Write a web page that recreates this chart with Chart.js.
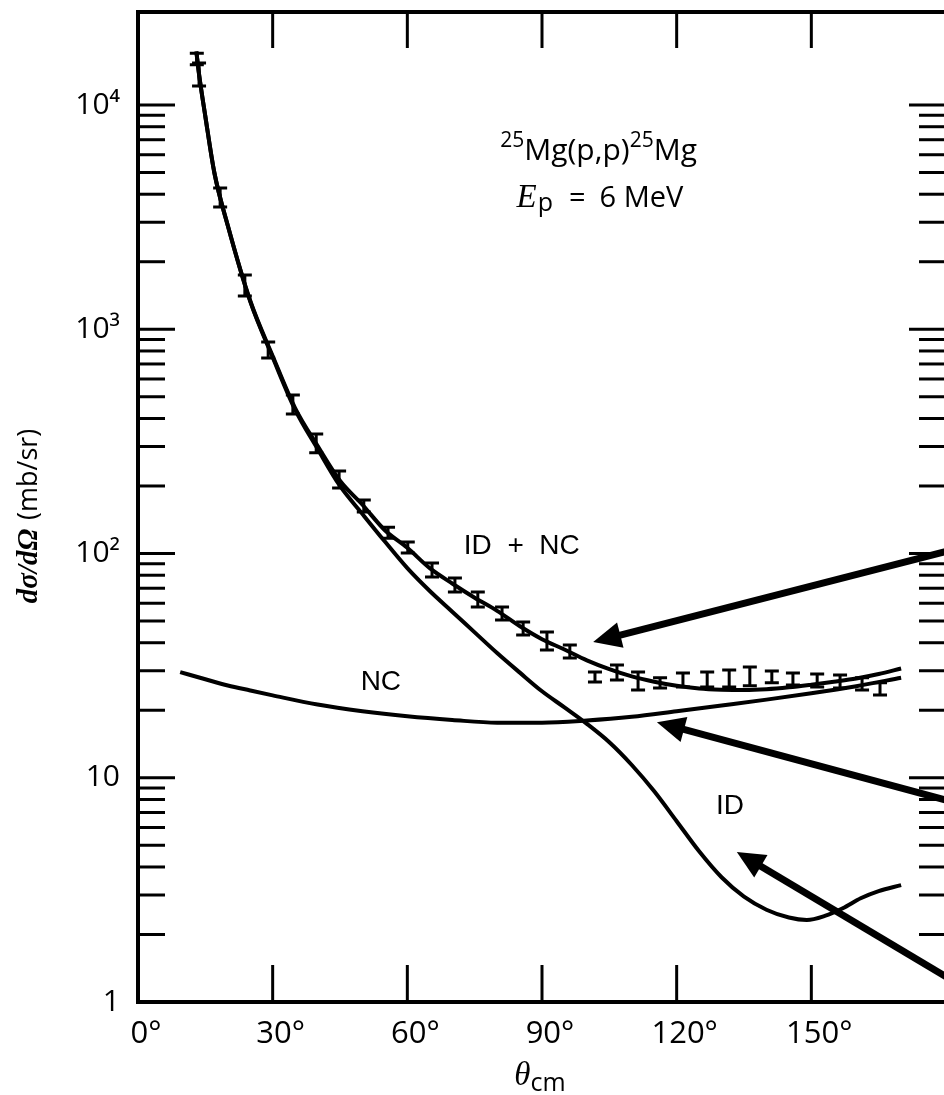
<!DOCTYPE html>
<html>
<head>
<meta charset="utf-8">
<script src="https://cdn.jsdelivr.net/npm/chart.js@4.4.0/dist/chart.umd.min.js"></script>
<style>
html,body{margin:0;padding:0;background:#fff;overflow:hidden;width:944px;height:1095px}
#wrap{position:relative;width:960px;height:1095px}
canvas{display:block}
</style>
</head>
<body>
<div id="wrap"><canvas id="c" width="960" height="1095"></canvas></div>
<script>
// ---------- data ----------
const angleTicks = [0, 30, 60, 90, 120, 150];
const angleTickLabels = ['0°', '30°', '60°', '90°', '120°', '150°'];
const yTickValues = [1, 10, 100, 1000, 10000];
const yTickLabels = ['1', '10', '10²', '10³', '10⁴'];

// ID + NC curve
const idncAngles = [13, 13.6, 15, 17, 20, 25, 30, 35, 40, 45, 50, 55, 60, 65, 70, 75, 80, 85, 90, 95, 100, 105, 110, 115, 120, 125, 130, 135, 140, 145, 150, 155, 160, 165, 170];
const idncValues = [17300, 13700, 8900, 5000, 2900, 1340, 760, 445, 302, 211, 165, 127, 106, 86, 73.5, 63.5, 55.5, 47.5, 41.5, 37.3, 33.4, 30.5, 28.3, 26.8, 25.7, 25.0, 24.7, 24.6, 24.8, 25.3, 26.0, 26.8, 27.7, 29.0, 30.7];

// ID curve
const idAngles = [13, 13.6, 15, 17, 20, 25, 30, 35, 40, 45, 50, 55, 60, 65, 70, 75, 80, 85, 90, 95, 100, 105, 110, 115, 120, 125, 130, 135, 140, 145, 149, 153, 157, 161, 165, 170];
const idValues = [17300, 13700, 8900, 5000, 2900, 1330, 750, 438, 293, 200, 150, 113, 86, 68, 55, 44.5, 36, 29.5, 24.3, 20.6, 17.4, 14.4, 11.4, 8.7, 6.4, 4.7, 3.6, 2.95, 2.58, 2.38, 2.32, 2.42, 2.62, 2.9, 3.12, 3.32];

// NC curve
const ncAngles = [9.4, 15, 20, 25, 30, 40, 50, 60, 70, 80, 90, 100, 110, 120, 130, 140, 150, 160, 170];
const ncValues = [29.6, 27.5, 25.8, 24.5, 23.3, 21.2, 19.8, 18.8, 18.1, 17.6, 17.6, 18.0, 18.7, 19.8, 21.0, 22.3, 23.8, 25.6, 27.9];

// measured points (error bars)
const pointAngles = [13.1, 13.6, 18.3, 23.8, 29.0, 34.5, 39.7, 44.8, 50.3, 55.7, 60.1, 65.5, 70.6, 75.7, 81.1, 85.8, 91.1, 96.2, 101.8, 106.7, 111.4, 116.3, 121.4, 126.8, 131.7, 136.3, 141.2, 145.9, 151.3, 156.4, 161.3, 165.3];
const pointLow  = [15100, 12150, 3510, 1407, 744, 419, 281, 196, 153, 117, 100.5, 78.6, 67.3, 57.7, 50.5, 43.3, 37.1, 34.2, 26.7, 27.3, 24.6, 25.1, 25.4, 25.4, 25.4, 25.7, 26.5, 25.9, 25.4, 25.1, 24.6, 23.4];
const pointHigh = [17000, 15400, 4265, 1745, 877, 509, 341, 233, 173, 131, 112.5, 90.7, 77.8, 67.3, 57.7, 49.5, 44.7, 39.1, 29.6, 31.8, 29.6, 27.9, 29.3, 29.6, 30.2, 31.2, 29.9, 29.3, 29.0, 28.7, 27.9, 26.5];

// ---------- helpers ----------
const toXY = (xs, ys) => xs.map((x, i) => ({ x: x, y: ys[i] }));
const SANS = '"Open Sans", "DejaVu Sans", sans-serif';
const SERIF = '"Liberation Serif", "DejaVu Serif", serif';
const HELV = '"Liberation Sans", Arial, sans-serif';

function richText(ctx, segs, cx, baseY) {
  let total = 0;
  segs.forEach(s => { ctx.font = s.f; s.w = ctx.measureText(s.t).width; total += s.w + (s.gap || 0); });
  let x = cx - total / 2;
  segs.forEach(s => {
    ctx.font = s.f;
    ctx.fillText(s.t, x, baseY + (s.dy || 0));
    x += s.w + (s.gap || 0);
  });
}

const framePlugin = {
  id: 'frameTicks',
  afterDraw(chart) {
    const { ctx, chartArea: a, scales: { x, y } } = chart;
    ctx.save();
    ctx.strokeStyle = '#000';
    ctx.lineWidth = 3;
    const seg = (x1, y1, x2, y2) => { ctx.beginPath(); ctx.moveTo(x1, y1); ctx.lineTo(x2, y2); ctx.stroke(); };
    angleTicks.forEach(v => {
      if (v <= 0) return;
      const px = x.getPixelForValue(v);
      seg(px, a.bottom, px, a.bottom - 37);
      seg(px, a.top, px, a.top + 36);
    });
    for (let d = 0; d <= 4; d++) {
      for (let m = 1; m <= 9; m++) {
        const v = m * Math.pow(10, d);
        if (v > 10000) break;
        const py = y.getPixelForValue(v);
        const len = m === 1 ? 37 : 27;
        seg(a.left, py, a.left + len, py);
        seg(a.right, py, a.right - len, py);
      }
    }
    ctx.lineWidth = 4;
    ctx.strokeRect(a.left, a.top, a.width, a.height);

    // arrows (anchored in data coordinates)
    const arrows = [
      { from: [183.1, 105.8], to: [101.4, 40.3] },
      { from: [183.1, 7.64], to: [115.6, 17.7] },
      { from: [183.1, 1.19], to: [133.4, 4.67] }
    ];
    ctx.fillStyle = '#000';
    arrows.forEach(ar => {
      const x1 = x.getPixelForValue(ar.from[0]), y1 = y.getPixelForValue(ar.from[1]);
      const x2 = x.getPixelForValue(ar.to[0]), y2 = y.getPixelForValue(ar.to[1]);
      const ang = Math.atan2(y2 - y1, x2 - x1);
      const hl = 28, hw = 13;
      const bx = x2 - hl * Math.cos(ang), by = y2 - hl * Math.sin(ang);
      ctx.lineWidth = 7;
      seg(x1, y1, bx + 4 * Math.cos(ang), by + 4 * Math.sin(ang));
      ctx.beginPath();
      ctx.moveTo(x2, y2);
      ctx.lineTo(bx + hw * Math.sin(ang), by - hw * Math.cos(ang));
      ctx.lineTo(bx - hw * Math.sin(ang), by + hw * Math.cos(ang));
      ctx.closePath();
      ctx.fill();
    });

    // texts
    ctx.fillStyle = '#000';
    ctx.textBaseline = 'alphabetic';
    ctx.textAlign = 'left';
    const P = (t, v) => [x.getPixelForValue(t), y.getPixelForValue(v)];
    let p = P(102.6, 5685);
    richText(ctx, [
      { t: '25', f: '21px ' + SANS, dy: -13 },
      { t: 'Mg(p,p)', f: '30px ' + SANS },
      { t: '25', f: '21px ' + SANS, dy: -13 },
      { t: 'Mg', f: '30px ' + SANS }
    ], p[0], p[1]);
    p = P(102.9, 3510);
    richText(ctx, [
      { t: 'E', f: 'italic 33px ' + SERIF, gap: 1 },
      { t: 'p', f: '25px ' + SANS, dy: 4, gap: 16 },
      { t: '=', f: '29px ' + SANS, gap: 14 },
      { t: '6 MeV', f: '29px ' + SANS }
    ], p[0], p[1]);
    ctx.textAlign = 'center';
    ctx.textBaseline = 'middle';
    ctx.font = '28px ' + HELV;
    p = P(85.5, 108); ctx.fillText('ID  +  NC', p[0], p[1]);
    p = P(54.1, 26.7); ctx.fillText('NC', p[0], p[1]);
    p = P(131.9, 7.48); ctx.fillText('ID', p[0], p[1]);

    // axis titles
    ctx.textAlign = 'left';
    ctx.textBaseline = 'alphabetic';
    richText(ctx, [
      { t: 'θ', f: 'italic 33px ' + SERIF },
      { t: 'cm', f: '25px ' + SANS, dy: 6 }
    ], (a.left + a.right) / 2 - 2, 1085);
    ctx.save();
    ctx.translate(37, 516);
    ctx.rotate(-Math.PI / 2);
    richText(ctx, [
      { t: 'dσ/dΩ', f: 'italic bold 29px ' + SERIF, gap: 9 },
      { t: '(mb/sr)', f: '27px ' + SANS }
    ], 0, 0);
    ctx.restore();
    ctx.restore();
  }
};

const errorBarPlugin = {
  id: 'errorBars',
  afterDatasetsDraw(chart) {
    const { ctx, chartArea: a, scales: { x, y } } = chart;
    ctx.save();
    ctx.beginPath(); ctx.rect(a.left, a.top, a.width, a.height); ctx.clip();
    ctx.strokeStyle = '#000';
    ctx.lineWidth = 3;
    pointAngles.forEach((t, i) => {
      const px = x.getPixelForValue(t);
      const lo = y.getPixelForValue(pointLow[i]);
      const hi = y.getPixelForValue(pointHigh[i]);
      ctx.beginPath();
      ctx.moveTo(px, lo); ctx.lineTo(px, hi);
      ctx.moveTo(px - 7, lo); ctx.lineTo(px + 7, lo);
      ctx.moveTo(px - 7, hi); ctx.lineTo(px + 7, hi);
      ctx.stroke();
    });
    ctx.restore();
  }
};

const lineStyle = { borderColor: '#000', borderWidth: 4, pointRadius: 0, fill: false, cubicInterpolationMode: 'monotone' };

new Chart(document.getElementById('c'), {
  type: 'line',
  data: {
    datasets: [
      Object.assign({ label: 'ID + NC', data: toXY(idncAngles, idncValues) }, lineStyle),
      Object.assign({ label: 'ID', data: toXY(idAngles, idValues) }, lineStyle),
      Object.assign({ label: 'NC', data: toXY(ncAngles, ncValues) }, lineStyle)
    ]
  },
  options: {
    responsive: false,
    animation: false,
    devicePixelRatio: 1,
    layout: { padding: { top: 12, right: 14, left: 0, bottom: 0 } },
    plugins: { legend: { display: false }, tooltip: { enabled: false } },
    scales: {
      x: {
        type: 'linear', min: 0, max: 180,
        afterBuildTicks: s => { s.ticks = angleTicks.map(v => ({ value: v })); },
        afterFit: s => { s.height = 93; s.paddingLeft = 0; s.paddingRight = 0; },
        grid: { display: false, drawTicks: false },
        border: { display: false },
        ticks: {
          autoSkip: false, maxRotation: 0, padding: 14, labelOffset: 8,
          color: '#000', font: { family: SANS, size: 31 },
          callback: v => { const i = angleTicks.indexOf(v); return i >= 0 ? angleTickLabels[i] : ''; }
        }
      },
      y: {
        type: 'logarithmic', min: 1, max: 25980,
        afterBuildTicks: s => { s.ticks = yTickValues.map(v => ({ value: v })); },
        afterFit: s => { s.width = 138; s.paddingTop = 0; s.paddingBottom = 0; },
        grid: { display: false, drawTicks: false },
        border: { display: false },
        ticks: {
          autoSkip: false, padding: 18,
          color: '#000', font: { family: SANS, size: 30 },
          callback: v => { const i = yTickValues.indexOf(v); return i >= 0 ? yTickLabels[i] : ''; }
        }
      }
    }
  },
  plugins: [errorBarPlugin, framePlugin]
});
</script>
</body>
</html>
